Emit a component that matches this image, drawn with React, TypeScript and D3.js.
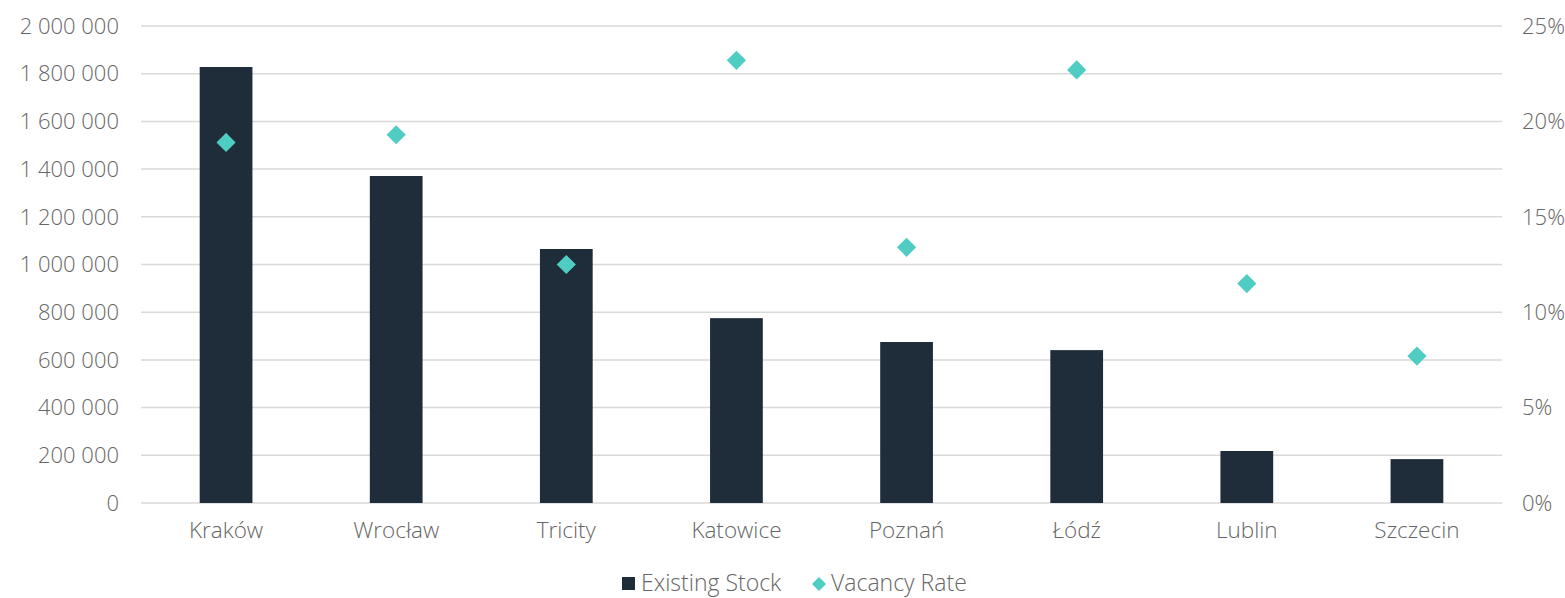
import React from "react";
import * as d3 from "d3";

const categories = ["Kraków", "Wrocław", "Tricity", "Katowice", "Poznań", "Łódź", "Lublin", "Szczecin"];
const existingStock = [1828000, 1371000, 1065000, 775000, 675000, 641000, 218000, 184000];
const vacancyRate = [18.9, 19.3, 12.5, 23.2, 13.4, 22.7, 11.5, 7.7];
const leftTicks = [0, 200000, 400000, 600000, 800000, 1000000, 1200000, 1400000, 1600000, 1800000, 2000000];
const rightTicks = [0, 5, 10, 15, 20, 25];

const W = 1565, H = 598;
const M = { left: 141, right: 1502, top: 26, bottom: 503 };
const FONT = "'Open Sans', 'DejaVu Sans', sans-serif";
const TEXT = "#666666";
const BAR = "#1f2c3a";
const TEAL = "#4fcdc2";

const fmt = (v: number) => d3.format(",")(v).replace(/,/g, " ");

export default function App() {
  const x = d3.scaleBand<string>().domain(categories).range([M.left, M.right]).paddingInner(0.69).paddingOuter(0.345);
  const yL = d3.scaleLinear().domain([0, 2000000]).range([M.bottom, M.top]);
  const yR = d3.scaleLinear().domain([0, 25]).range([M.bottom, M.top]);
  const diamond = d3.symbol().type(d3.symbolDiamond2).size(235)();
  const legendDiamond = d3.symbol().type(d3.symbolDiamond2).size(125)();
  return (
    <svg width={W} height={H} style={{ position: "absolute", left: 0, top: 0, display: "block" }} fontFamily={FONT}>
      <rect width={W} height={H} fill="#fff" />
      {leftTicks.map((t) => (
        <g key={t}>
          <line x1={M.left} x2={M.right} y1={yL(t)} y2={yL(t)} stroke="#d9d9d9" strokeWidth={1.5} />
          <text x={119} y={yL(t)} dy="0.35em" textAnchor="end" fontSize={22} fontWeight={300} fill={TEXT}>{fmt(t)}</text>
        </g>
      ))}
      {rightTicks.map((t) => (
        <text key={t} x={1522} y={yR(t)} dy="0.35em" textAnchor="start" fontSize={22} fontWeight={300} fill={TEXT}>{t}%</text>
      ))}
      {categories.map((c, i) => (
        <rect key={c} x={x(c)!} y={yL(existingStock[i])} width={x.bandwidth()} height={M.bottom - yL(existingStock[i])} fill={BAR} />
      ))}
      {categories.map((c, i) => (
        <path key={c} d={diamond!} transform={`translate(${x(c)! + x.bandwidth() / 2},${yR(vacancyRate[i])})`} fill={TEAL} />
      ))}
      {categories.map((c) => (
        <text key={c} x={x(c)! + x.bandwidth() / 2} y={538} textAnchor="middle" fontSize={22.5} fontWeight={300} fill={TEXT}>{c}</text>
      ))}
      <g>
        <rect x={622} y={577} width={13} height={13} fill={BAR} />
        <text x={641} y={591} fontSize={23} fontWeight={300} fill={TEXT}>Existing Stock</text>
        <path d={legendDiamond!} transform="translate(819,584)" fill={TEAL} />
        <text x={831} y={591} fontSize={23} fontWeight={300} fill={TEXT}>Vacancy Rate</text>
      </g>
    </svg>
  );
}
